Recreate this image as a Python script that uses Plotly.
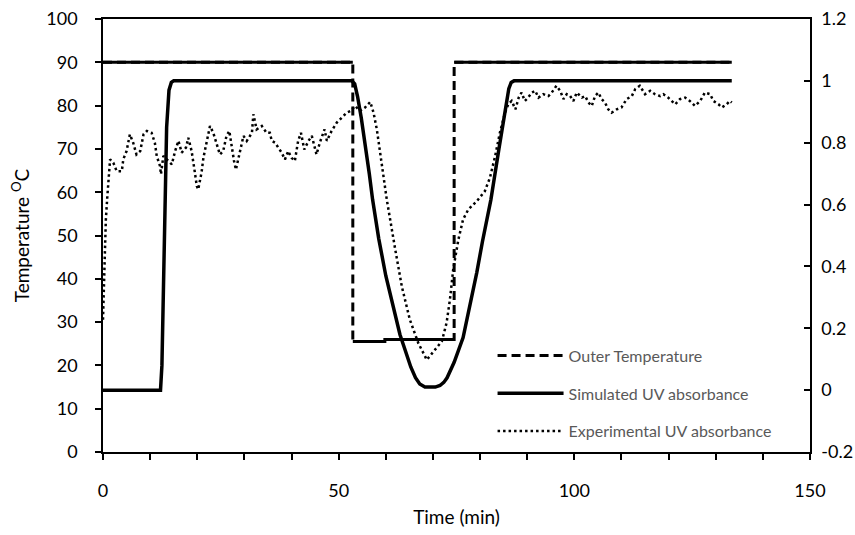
import plotly.graph_objects as go

# ---------------- data ----------------
# Outer temperature (left axis, deg C)
t_outer = [0, 53.0, 53.0, 59.8, 59.8, 74.5, 74.5, 133.4]
temp_outer = [90, 90, 25.5, 25.5, 26.0, 26.0, 90, 90]

# Simulated UV absorbance (right axis)
t_sim = [0, 12.2, 12.5, 13.0, 13.5, 14.0, 14.5, 15.0, 52.8, 53.4, 54.0, 54.8, 55.7, 56.5, 57.2,
         58.5, 60.0, 61.5, 63.0, 64.1, 65.3, 66.3, 67.2, 68.3, 70.5, 71.5, 72.3, 73.0, 74.5,
         76.4, 78.0, 79.3, 80.5, 82.3, 84.0, 85.5, 86.1, 86.6, 87.2, 133.4]
uv_sim = [0, 0, 0.08, 0.5, 0.85, 0.97, 0.995, 1.0, 1.0, 0.99, 0.95, 0.88, 0.79, 0.70, 0.616,
          0.49, 0.37, 0.27, 0.18, 0.13, 0.075, 0.04, 0.02, 0.01, 0.01, 0.015, 0.025, 0.04, 0.09,
          0.17, 0.28, 0.38, 0.48, 0.616, 0.78, 0.93, 0.975, 0.995, 1.0, 1.0]

# Experimental UV absorbance (right axis)
t_exp = [0, 0.3, 0.6, 0.9, 1.5, 2.2, 2.9, 4.0, 4.3, 5.0, 5.7, 6.4, 7.1, 7.9, 8.6, 9.3, 10.3,
         11.0, 11.4, 12.1, 12.3, 12.8, 13.5, 14.6, 15.3, 16.0, 16.7, 17.6, 18.1, 18.8, 19.5,
         19.9, 20.2, 20.9, 21.3, 22.0, 22.7, 23.4, 24.1, 24.8, 25.5, 26.2, 26.8, 27.3, 27.8,
         28.2, 29.1, 29.8, 30.5, 31.6, 31.9, 32.6, 33.7, 34.7, 35.4, 35.8, 36.5, 37.2, 37.9,
         38.6, 39.3, 40.0, 40.7, 41.4, 42.0, 42.7, 43.6, 44.3, 45.3, 46.0, 47.0, 47.5, 48.5,
         49.6, 50.6, 51.7, 52.6, 53.5, 54.5, 55.6, 56.7, 57.4, 58.1, 58.8, 59.5, 60.2, 62.0,
         63.4, 65.1, 66.9, 68.7, 70.1, 71.9, 72.9, 73.6, 74.3, 75.4, 76.4, 77.5, 79.3, 81.0,
         82.1, 83.2, 84.2, 85.3, 86.0, 86.7, 87.5, 88.2, 88.8, 89.5, 90.2, 91.0, 91.7, 92.4,
         93.4, 94.5, 95.2, 96.2, 97.0, 97.7, 98.4, 99.1, 99.8, 100.5, 101.6, 102.3, 103.0,
         103.7, 104.4, 105.1, 105.8, 106.5, 107.2, 107.9, 109.0, 110.0, 111.1, 112.2, 112.9,
         113.9, 115.0, 116.1, 117.1, 118.2, 118.9, 119.9, 121.4, 122.4, 123.5, 124.5, 125.6,
         126.7, 127.7, 128.8, 129.5, 130.6, 131.3, 132.3, 133.0, 133.4]
uv_exp = [0.228, 0.42, 0.55, 0.622, 0.746, 0.735, 0.708, 0.708, 0.746, 0.773, 0.827, 0.800,
          0.762, 0.773, 0.827, 0.838, 0.832, 0.800, 0.757, 0.724, 0.698, 0.757, 0.746, 0.730,
          0.773, 0.806, 0.768, 0.784, 0.816, 0.773, 0.703, 0.660, 0.649, 0.703, 0.751, 0.800,
          0.854, 0.832, 0.800, 0.762, 0.773, 0.822, 0.838, 0.784, 0.741, 0.713, 0.773, 0.822,
          0.806, 0.832, 0.892, 0.843, 0.854, 0.832, 0.832, 0.806, 0.800, 0.784, 0.768, 0.746,
          0.773, 0.751, 0.741, 0.806, 0.832, 0.778, 0.806, 0.822, 0.762, 0.800, 0.843, 0.806,
          0.838, 0.865, 0.881, 0.897, 0.903, 0.919, 0.903, 0.914, 0.932, 0.897, 0.843, 0.768,
          0.692, 0.617, 0.455, 0.335, 0.228, 0.152, 0.098, 0.125, 0.158, 0.218, 0.292, 0.390,
          0.487, 0.552, 0.584, 0.611, 0.643, 0.687, 0.757, 0.832, 0.897, 0.925, 0.935, 0.908,
          0.946, 0.962, 0.935, 0.946, 0.962, 0.968, 0.946, 0.957, 0.951, 0.962, 0.984, 0.968,
          0.941, 0.957, 0.951, 0.935, 0.962, 0.946, 0.951, 0.930, 0.919, 0.951, 0.962, 0.941,
          0.930, 0.908, 0.897, 0.908, 0.914, 0.941, 0.951, 0.973, 0.984, 0.957, 0.968, 0.957,
          0.951, 0.957, 0.946, 0.924, 0.941, 0.946, 0.935, 0.919, 0.935, 0.962, 0.957, 0.935,
          0.924, 0.914, 0.924, 0.935, 0.930]

FONT = "Lato, Carlito, Calibri, sans-serif"

# solid overlay for the horizontal runs of the outer temperature series
ov_x, ov_y = [], []
for i in range(len(t_outer) - 1):
    if temp_outer[i] == temp_outer[i + 1]:
        ov_x += [t_outer[i], t_outer[i + 1], None]
        ov_y += [temp_outer[i], temp_outer[i + 1], None]

fig = go.Figure()
fig.add_trace(go.Scatter(x=t_outer, y=temp_outer, mode="lines", name="Outer Temperature",
                         line=dict(color="black", width=3, dash="9px,5px"),
                         legendgroup="a", yaxis="y"))
fig.add_trace(go.Scatter(x=ov_x, y=ov_y, mode="lines", showlegend=False,
                         line=dict(color="black", width=3), yaxis="y", hoverinfo="skip"))
fig.add_trace(go.Scatter(x=t_sim, y=uv_sim, mode="lines", name="Simulated UV absorbance",
                         line=dict(color="black", width=3.5),
                         legendgroup="b", yaxis="y2"))
fig.add_trace(go.Scatter(x=t_exp, y=uv_exp, mode="lines", name="Experimental UV absorbance",
                         line=dict(color="black", width=2.5, dash="2.5px,3px"),
                         legendgroup="c", yaxis="y2"))

fig.update_layout(
    width=855, height=535,
    margin=dict(l=103, r=45, t=19, b=83),
    paper_bgcolor="white", plot_bgcolor="white",
    font=dict(family=FONT, color="black", size=18),
    showlegend=True,
    legend=dict(x=0.551, y=0.262, xanchor="left", yanchor="top",
                bgcolor="rgba(0,0,0,0)", font=dict(size=16, color="#595959", family=FONT),
                traceorder="grouped", tracegroupgap=14, itemwidth=66),
    xaxis=dict(range=[0, 150], tickvals=[0, 50, 100, 150], ticks="outside", ticklen=6,
               tickwidth=1.5, tickcolor="black", ticklabelstandoff=16, automargin=False,
               minor=dict(dtick=10, ticks="outside", ticklen=6, tickwidth=1.5, tickcolor="black"),
               showline=True, linecolor="black", linewidth=1.5, mirror=True,
               showgrid=False, zeroline=False,
               title=dict(text="Time (min)", font=dict(size=19), standoff=10)),
    yaxis=dict(range=[0, 100], dtick=10, ticks="outside", ticklen=6, tickwidth=1.5,
               tickcolor="black", showline=True, linecolor="black", linewidth=1.5,
               showgrid=False, zeroline=False, ticklabelstandoff=14, automargin=False,
               title=dict(text="Temperature <sup>O</sup>C", font=dict(size=19), standoff=12)),
    yaxis2=dict(range=[-0.2, 1.2], tickvals=[-0.2, 0, 0.2, 0.4, 0.6, 0.8, 1, 1.2],
                ticktext=["-0.2", "0", "0.2", "0.4", "0.6", "0.8", "1", "1.2"],
                overlaying="y", side="right", ticks="inside", ticklen=6, tickwidth=1.5,
                tickcolor="black", showline=True, linecolor="black", linewidth=1.5,
                showgrid=False, zeroline=False, ticklabelstandoff=6, automargin=False),
)

fig.write_html("out.html")
